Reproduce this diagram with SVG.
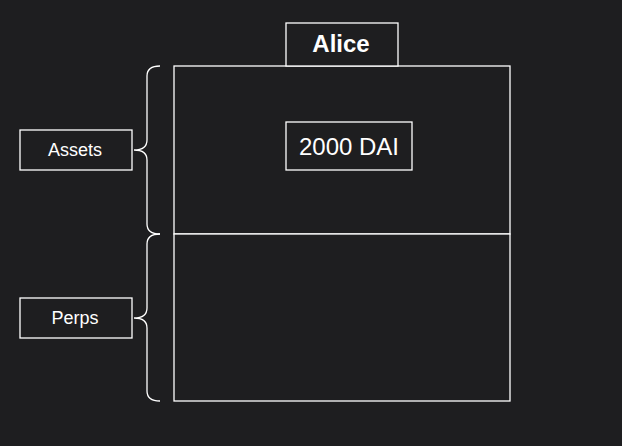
<svg xmlns="http://www.w3.org/2000/svg" width="622" height="446" viewBox="0 0 622 446">
<style>
.b{fill:#1e1e20;stroke:#fff;stroke-width:1.3}
.br{fill:none;stroke:#fff;stroke-width:1.3}
.t{fill:#fff;font-family:"Liberation Sans",Arial,sans-serif;text-anchor:middle}
</style>
<rect width="622" height="446" fill="#1e1e20"/>
<g id="account">
<rect class="b" x="174" y="66" width="336" height="168"/>
<rect class="b" x="174" y="234" width="336" height="167"/>
</g>
<g id="alice"><rect class="b" x="286" y="23" width="112" height="43"/><text class="t" x="341" y="52" font-size="24" font-weight="bold">Alice</text></g>
<g id="dai"><rect class="b" x="286" y="122" width="126" height="48"/><text class="t" x="349" y="155" font-size="24">2000 DAI</text></g>
<g id="assets"><rect class="b" x="20" y="130" width="112" height="40"/><text class="t" x="75" y="156" font-size="18">Assets</text></g>
<g id="perps"><rect class="b" x="20" y="298" width="112" height="40"/><text class="t" x="75" y="324" font-size="18">Perps</text></g>
<g id="connectors">
<path class="br" d="M160 66 Q147 66 147 76 V140 Q147 150 134 150 Q147 150 147 160 V224 Q147 234 160 234"/>
<path class="br" d="M160 234 Q147 234 147 244 V308 Q147 318 134 318 Q147 318 147 328 V391 Q147 401 160 401"/>
</g>
</svg>
